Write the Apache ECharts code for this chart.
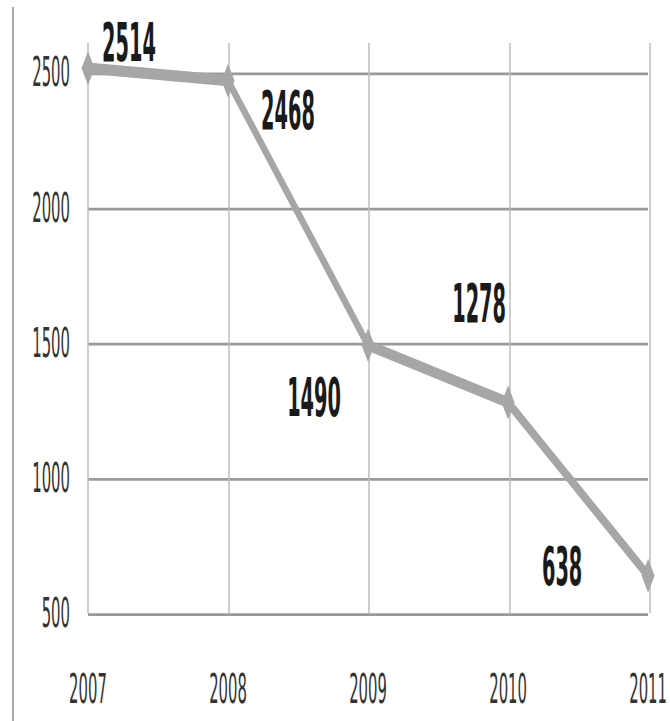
<!DOCTYPE html>
<html>
<head>
<meta charset="utf-8">
<script src="https://cdn.jsdelivr.net/npm/echarts@6/dist/echarts.min.js"></script>
<style>
html { overflow: hidden; }
html, body { margin: 0; padding: 0; background: #fff; width: 670px; height: 721px; }
/* the source picture is stretched about 2.5x vertically, so draw short and stretch */
#main { width: 670px; height: 288px; transform: scaleY(2.50347); transform-origin: 0 0; }
</style>
</head>
<body>
<div id="main"></div>
<script>
var years = ['2007', '2008', '2009', '2010', '2011'];
var values = [2514, 2468, 1490, 1278, 638];
var yTicks = [500, 1000, 1500, 2000, 2500];
// label offsets from each point (unscaled px)
var labelOffsets = [[41, -10.4], [60, 12], [-54, 20.8], [-29, -39.5], [-86, -3.6]];

var narrow = '"Liberation Sans Narrow", "DejaVu Sans Condensed", sans-serif';

var chart = echarts.init(document.getElementById('main'), null, { renderer: 'svg' });

var seriesData = values.map(function (v, i) {
  return { value: v, label: { offset: labelOffsets[i] } };
});

var option = {
  animation: false,
  grid: [
    { left: 88, right: 20, top: 28.76, bottom: 43.14 },
    { left: 88, right: 20, top: 17.18, bottom: 43.14 }
  ],
  xAxis: [
    {
      type: 'category', gridIndex: 0, data: years, boundaryGap: false,
      axisLine: { show: false }, axisTick: { show: false }, splitLine: { show: false },
      axisLabel: { margin: 21.7, color: '#333', fontFamily: narrow, fontSize: 16.5 }
    },
    {
      type: 'category', gridIndex: 1, data: years, boundaryGap: false,
      axisLine: { show: false }, axisTick: { show: false }, axisLabel: { show: false },
      splitLine: { show: true, lineStyle: { color: '#bdbdbd', width: 1.5 } }
    }
  ],
  yAxis: [
    {
      type: 'value', gridIndex: 0, min: yTicks[0], max: yTicks[yTicks.length - 1], interval: 500,
      axisLine: { show: false }, axisTick: { show: false },
      axisLabel: { margin: 18, color: '#333', fontFamily: narrow, fontSize: 16.5,
        formatter: function (v) { return String(v); } },
      splitLine: { show: true, lineStyle: { color: '#9a9a9a', width: 1.1 } }
    },
    { type: 'value', gridIndex: 1, min: 0, max: 1, show: false }
  ],
  graphic: [
    { type: 'line', shape: { x1: 13, y1: 2.8, x2: 13, y2: 288 }, style: { stroke: '#8c8c8c', lineWidth: 1.5 } }
  ],
  series: [
    {
      type: 'line', xAxisIndex: 0, yAxisIndex: 0, data: seriesData, clip: false,
      lineStyle: { color: '#a6a6a6', width: 4.5 },
      itemStyle: { color: '#a6a6a6' },
      symbol: 'diamond', symbolSize: [13, 13.6],
      label: {
        show: true, position: 'inside', color: '#1a1a1a',
        fontFamily: narrow, fontWeight: 'bold', fontSize: 21.5
      }
    }
  ]
};
chart.setOption(option);
</script>
</body>
</html>
